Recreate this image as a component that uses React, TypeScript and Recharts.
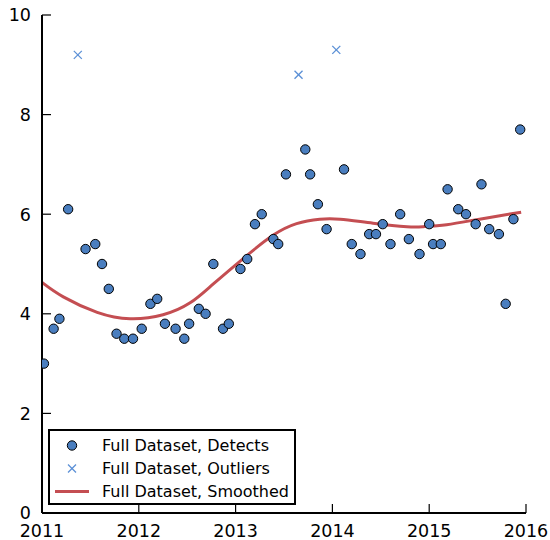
import React from "react";
import {
  ComposedChart,
  Line,
  Scatter,
  XAxis,
  YAxis,
} from "recharts";

// detects (decimal year, value)
const detectYears = [
  2011.02, 2011.12, 2011.18, 2011.27, 2011.45, 2011.55, 2011.62, 2011.69, 2011.77, 2011.85,
  2011.94, 2012.03, 2012.12, 2012.19, 2012.27, 2012.38, 2012.47, 2012.52, 2012.62, 2012.69,
  2012.77, 2012.87, 2012.93, 2013.05, 2013.12, 2013.2, 2013.27, 2013.39, 2013.44, 2013.52,
  2013.72, 2013.77, 2013.85, 2013.94, 2014.12, 2014.2, 2014.29, 2014.38, 2014.45, 2014.52,
  2014.6, 2014.7, 2014.79, 2014.9, 2015.0, 2015.04, 2015.12, 2015.19, 2015.3, 2015.38,
  2015.48, 2015.54, 2015.62, 2015.72, 2015.79, 2015.87, 2015.94,
];
const detectValues = [
  3.0, 3.7, 3.9, 6.1, 5.3, 5.4, 5.0, 4.5, 3.6, 3.5,
  3.5, 3.7, 4.2, 4.3, 3.8, 3.7, 3.5, 3.8, 4.1, 4.0,
  5.0, 3.7, 3.8, 4.9, 5.1, 5.8, 6.0, 5.5, 5.4, 6.8,
  7.3, 6.8, 6.2, 5.7, 6.9, 5.4, 5.2, 5.6, 5.6, 5.8,
  5.4, 6.0, 5.5, 5.2, 5.8, 5.4, 5.4, 6.5, 6.1, 6.0,
  5.8, 6.6, 5.7, 5.6, 4.2, 5.9, 7.7,
];

const outlierYears = [2011.37, 2013.65, 2014.04];
const outlierValues = [9.2, 8.8, 9.3];

// smoothed curve
const smoothYears = [
  2011.0, 2011.22, 2011.57, 2011.91, 2012.25, 2012.53, 2012.77, 2013.11, 2013.39, 2013.63,
  2013.87, 2014.08, 2014.42, 2014.77, 2014.94, 2015.18, 2015.46, 2015.73, 2015.95,
];
const smoothValues = [
  4.63, 4.34, 4.03, 3.9, 3.98, 4.22, 4.6, 5.16, 5.58, 5.81,
  5.9, 5.9, 5.82, 5.75, 5.75, 5.79, 5.88, 5.97, 6.04,
];

const xTicks = [2011, 2012, 2013, 2014, 2015, 2016];
const yTicks = [0, 2, 4, 6, 8, 10];

const detects = detectYears.map((x, i) => ({ x, y: detectValues[i] }));
const outliers = outlierYears.map((x, i) => ({ x, y: outlierValues[i] }));
const smoothed = smoothYears.map((x, i) => ({ x, y: smoothValues[i] }));

const BLUE = "#4a7ebf";
const XBLUE = "#5a8fd6";
const RED = "#c44e52";
const FONT = "'DejaVu Sans', sans-serif";
const TICK = 9;

const Dot = (props: any) => (
  <circle cx={props.cx} cy={props.cy} r={4.7} fill={BLUE} stroke="#000" strokeWidth={1} />
);

const Cross = (props: any) => {
  const { cx, cy } = props;
  const s = 4;
  return (
    <g stroke={XBLUE} strokeWidth={1.3}>
      <line x1={cx - s} y1={cy - s} x2={cx + s} y2={cy + s} />
      <line x1={cx - s} y1={cy + s} x2={cx + s} y2={cy - s} />
    </g>
  );
};

const BottomTick = (props: any) => {
  const { x, y, payload } = props;
  return (
    <g>
      <line x1={x} y1={y} x2={x} y2={y - TICK} stroke="#000" strokeWidth={1.2} />
      <text x={x} y={y + 24} textAnchor="middle" fontSize={17.5} fontFamily={FONT} fill="#000">
        {payload.value}
      </text>
    </g>
  );
};

const TopTick = (props: any) => {
  const { x, y } = props;
  return <line x1={x} y1={y} x2={x} y2={y + TICK} stroke="#000" strokeWidth={1.2} />;
};

const LeftTick = (props: any) => {
  const { x, y, payload } = props;
  return (
    <g>
      <line x1={x} y1={y} x2={x + TICK} y2={y} stroke="#000" strokeWidth={1.2} />
      <text x={x - 11} y={y} dy="0.36em" textAnchor="end" fontSize={17.5} fontFamily={FONT} fill="#000">
        {payload.value}
      </text>
    </g>
  );
};

const RightTick = (props: any) => {
  const { x, y } = props;
  return <line x1={x} y1={y} x2={x - TICK} y2={y} stroke="#000" strokeWidth={1.2} />;
};

const axisLine = { stroke: "#000", strokeWidth: 2 };

function LegendBox() {
  const labels = ["Full Dataset, Detects", "Full Dataset, Outliers", "Full Dataset, Smoothed"];
  return (
    <div
      style={{
        position: "absolute",
        left: 48,
        top: 429,
        width: 244,
        height: 72,
        border: "2px solid #000",
        background: "#fff",
      }}
    >
      {labels.map((text, i) => (
        <div
          key={i}
          style={{
            position: "absolute",
            left: 0,
            top: 3 + i * 23,
            width: 244,
            height: 23,
            display: "flex",
            alignItems: "center",
          }}
        >
          <svg width={52} height={23} style={{ flex: "none" }}>
            {i === 0 && <circle cx={22} cy={11.5} r={4.7} fill={BLUE} stroke="#000" strokeWidth={1} />}
            {i === 1 && (
              <g stroke={XBLUE} strokeWidth={1.3}>
                <line x1={18} y1={7.5} x2={26} y2={15.5} />
                <line x1={18} y1={15.5} x2={26} y2={7.5} />
              </g>
            )}
            {i === 2 && <line x1={5} y1={11.5} x2={39} y2={11.5} stroke={RED} strokeWidth={3} />}
          </svg>
          <span style={{ fontFamily: FONT, fontSize: 16, color: "#000", whiteSpace: "nowrap" }}>
            {text}
          </span>
        </div>
      ))}
    </div>
  );
}

export default function App() {
  return (
    <div style={{ position: "absolute", left: 0, top: 0, width: 550, height: 540, background: "#fff" }}>
      <ComposedChart
        width={550}
        height={540}
        margin={{ top: 15, right: 24, bottom: 0, left: 0 }}
      >
        <XAxis
          xAxisId="b"
          type="number"
          dataKey="x"
          domain={[2011, 2016]}
          ticks={xTicks}
          allowDataOverflow
          height={27}
          tickSize={0}
          tickMargin={0}
          tickLine={false}
          axisLine={axisLine}
          tick={<BottomTick />}
          interval={0}
        />
        <XAxis
          xAxisId="t"
          orientation="top"
          type="number"
          dataKey="x"
          domain={[2011, 2016]}
          ticks={xTicks}
          allowDataOverflow
          height={0}
          tickSize={0}
          tickMargin={0}
          tickLine={false}
          axisLine={axisLine}
          tick={<TopTick />}
          interval={0}
        />
        <YAxis
          yAxisId="l"
          type="number"
          dataKey="y"
          domain={[0, 10]}
          ticks={yTicks}
          allowDataOverflow
          width={42}
          tickSize={0}
          tickMargin={0}
          tickLine={false}
          axisLine={axisLine}
          tick={<LeftTick />}
          interval={0}
        />
        <YAxis
          yAxisId="r"
          orientation="right"
          type="number"
          dataKey="y"
          domain={[0, 10]}
          ticks={yTicks}
          allowDataOverflow
          width={0}
          tickSize={0}
          tickMargin={0}
          tickLine={false}
          axisLine={axisLine}
          tick={<RightTick />}
          interval={0}
        />
        <Line
          xAxisId="b"
          yAxisId="l"
          data={smoothed}
          dataKey="y"
          type="natural"
          stroke={RED}
          strokeWidth={3}
          dot={false}
          activeDot={false}
          isAnimationActive={false}
        />
        <Scatter
          xAxisId="b"
          yAxisId="l"
          data={detects}
          dataKey="y"
          shape={<Dot />}
          isAnimationActive={false}
        />
        <Scatter
          xAxisId="b"
          yAxisId="l"
          data={outliers}
          dataKey="y"
          shape={<Cross />}
          isAnimationActive={false}
        />
      </ComposedChart>
      <LegendBox />
    </div>
  );
}
